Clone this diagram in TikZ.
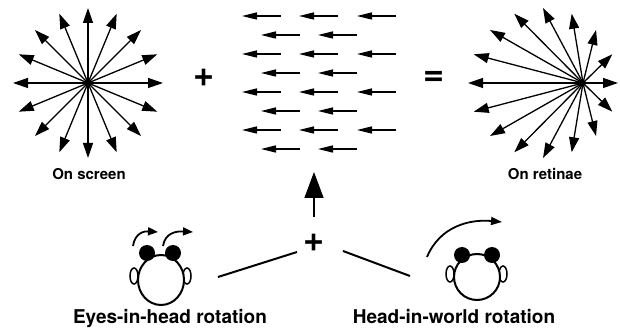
\documentclass[tikz,border=0pt]{standalone}
\usepackage{fontspec}
\setmainfont{TeX Gyre Heros}
\usetikzlibrary{arrows.meta,calc,shapes.geometric}

\begin{document}
\begin{tikzpicture}
[x=1pt,y=-1pt,
 ray/.style={line width=1.3pt,-{Triangle[length=15pt,width=10pt]}},
 flow/.style={line width=1.3pt,-{Triangle[length=15pt,width=7pt]}},
 turn/.style={line width=1.8pt,-{Triangle[length=10pt,width=8pt]}},
 bar/.style={line width=2pt},
 head/.style={ellipse,draw,line width=2pt,fill=white,inner sep=0pt},
 ear/.style={ellipse,draw,line width=1.5pt,fill=white,minimum width=8pt,minimum height=16pt,inner sep=0pt},
 eye/.style={circle,fill=black,minimum size=16pt,inner sep=0pt},
 caption/.style={font=\bfseries\fontsize{15}{15}\selectfont,anchor=base},
 title/.style={font=\bfseries\fontsize{19}{19}\selectfont,anchor=base},
 sign/.style={font=\bfseries\fontsize{36}{36}\selectfont,inner sep=0pt}]

\useasboundingbox (0,0) rectangle (620,328);

% radial expansion on the screen
\coordinate (scr) at (88,83);
\foreach \a in {0,22.5,...,337.5}
  \draw[ray] (scr) -- ($(scr)+(\a:75)$);
\fill (scr) circle (3pt);
\node[caption] (scrlbl) at (89,180) {On screen};

\node[sign] (plusA) at (204,78) {+};

% uniform leftward flow
\foreach \r in {0,2,4,6}
  \foreach \x in {242,299,357} {
    \coordinate (ft) at (\x,{16+19*\r});
    \coordinate (fs) at (\x+39,{16+19*\r});
    \draw[flow] (fs) -- (ft);
  }
\foreach \r in {1,3,5,7}
  \foreach \x in {261,318} {
    \coordinate (ft) at (\x,{16+19*\r});
    \coordinate (fs) at (\x+39,{16+19*\r});
    \draw[flow] (fs) -- (ft);
  }

\node[sign] (eq) at (434,78) {=};

% shifted expansion on the retinae
\coordinate (ret) at (583,83);
\coordinate (retc) at (543,83);
\foreach \a in {0,22.5,...,337.5}
  \draw[ray] (ret) -- ($(retc)+(\a:75)$);
\fill (ret) circle (3pt);
\node[caption] (retlbl) at (545,180) {On retinae};

% the two rotations add up
\coordinate (up0) at (314,217);
\coordinate (up1) at (314,172);
\draw[line width=1.5pt,-{Triangle[length=26pt,width=19pt]}] (up0) -- (up1);
\node[sign] (plusB) at (314,243) {+};
\coordinate (la) at (218,277);
\coordinate (lb) at (297,252);
\coordinate (ra) at (343,251);
\coordinate (rb) at (410,276);
\draw[bar] (la) -- (lb);
\draw[bar] (ra) -- (rb);

% eyes turning in the head
\node[ear] (earL1) at (134,276) {};
\node[ear] (earL2) at (187,276) {};
\node[head,minimum width=46pt,minimum height=50pt] (headL) at (161,280) {};
\node[eye] (eyeL1) at (147,253) {};
\node[eye] (eyeL2) at (173,253) {};
\coordinate (ta0) at (133,246);
\coordinate (ta1) at (158,232);
\coordinate (tb0) at (163,246);
\coordinate (tb1) at (193,232);
\draw[turn] (ta0) .. controls (135,233) and (144,231) .. (ta1);
\draw[turn] (tb0) .. controls (165,233) and (176,231) .. (tb1);
\node[title] (eyelbl) at (170,323) {Eyes-in-head rotation};

% head turning in the world
\node[ear] (earR1) at (450,274) {};
\node[ear] (earR2) at (503,274) {};
\node[head,minimum width=46pt,minimum height=46pt] (headR) at (477,277) {};
\node[eye] (eyeR1) at (462,255) {};
\node[eye] (eyeR2) at (492,255) {};
\coordinate (hw0) at (427,257);
\coordinate (hw1) at (502,222);
\draw[turn,-{Triangle[length=11pt,width=8pt]}] (hw0) .. controls (440,226) and (470,219) .. (hw1);
\node[title] (headlbl) at (454,323) {Head-in-world rotation};
\end{tikzpicture}
\end{document}
